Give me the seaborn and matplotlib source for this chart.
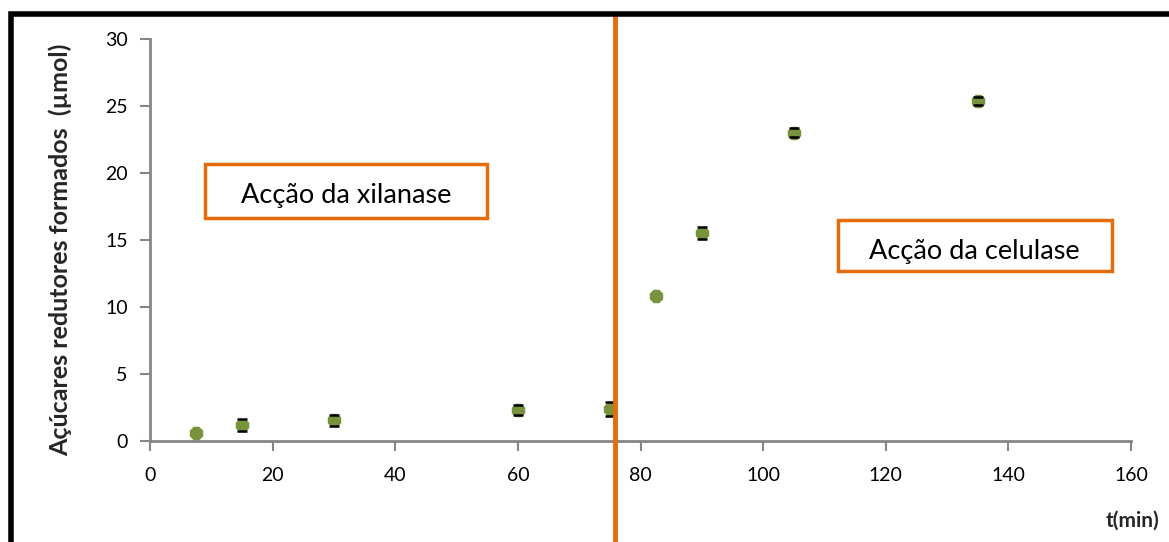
import numpy as np
import pandas as pd
import matplotlib
matplotlib.use("Agg")
import matplotlib.pyplot as plt
from matplotlib.patches import Rectangle
import seaborn as sns

# Reducing sugars formed over time
time_min = [7.5, 15, 30, 60, 75, 82.5, 90, 105, 135]
sugars_umol = [0.6, 1.2, 1.55, 2.3, 2.4, 10.8, 15.5, 23.0, 25.4]
sugars_err = [0.0, 0.45, 0.4, 0.35, 0.5, 0.0, 0.45, 0.35, 0.3]
enzyme_switch = 75.8

x_ticks = [0, 20, 40, 60, 80, 100, 120, 140, 160]
y_ticks = [0, 5, 10, 15, 20, 25, 30]

df = pd.DataFrame({"t": time_min, "a": sugars_umol, "e": sugars_err})

sns.set_theme(style="white")
plt.rcParams["font.family"] = ["Lato", "DejaVu Sans"]

W, H = 1169, 542
fig = plt.figure(figsize=(W / 100, H / 100), dpi=100)
ax = fig.add_axes([150 / W, 1 - 441 / H, 981 / W, 402 / H])

grey = "#868686"
green = "#77933C"
orange = "#E46C0A"

sns.scatterplot(data=df, x="t", y="a", ax=ax, color=green, marker="8",
                s=110, edgecolor=green, linewidth=0, zorder=3)
err = df[df["e"] > 0]
_, caps, stems = ax.errorbar(err["t"], err["a"], yerr=err["e"], fmt="none",
                             ecolor="black", elinewidth=1.0, capsize=3.5,
                             capthick=1.8, zorder=2)
for c in caps:
    c.set_zorder(4)

ax.set_xlim(0, 160)
ax.set_ylim(0, 30)
ax.set_xticks(x_ticks)
ax.set_yticks(y_ticks)
ax.tick_params(axis="both", direction="out", length=7, width=1.5, color=grey,
               labelsize=14, labelcolor="black", pad=9, left=True, bottom=True)
ax.tick_params(axis="x", pad=12)
for side in ("top", "right"):
    ax.spines[side].set_visible(False)
for side in ("left", "bottom"):
    ax.spines[side].set_color(grey)
    ax.spines[side].set_linewidth(2)

ax.set_xlabel("")
ax.set_ylabel("")
fig.text(60 / W, 1 - 250 / H, "Açúcares redutores formados  (µmol)",
         rotation=90, ha="center", va="center", fontsize=18, fontweight="bold")
fig.text(1133 / W, 1 - 521 / H, "t(min)", ha="center", va="center",
         fontsize=15, fontweight="bold")

# Line marking the change from xylanase to cellulase action
ax.axvline(enzyme_switch, ymin=-0.26, ymax=1.06, color=orange, lw=3.5,
           clip_on=False, zorder=5)

ax.add_patch(Rectangle((205 / W, 1 - 218 / H), 282 / W, 54 / H,
                       transform=fig.transFigure, fc="white", ec=orange,
                       lw=2.5, zorder=5, clip_on=False))
fig.text(346 / W, 1 - 195 / H, "Acção da xilanase", ha="center", va="center",
         fontsize=19.5, color="black", zorder=6)
ax.add_patch(Rectangle((838 / W, 1 - 271 / H), 274 / W, 51 / H,
                       transform=fig.transFigure, fc="white", ec=orange,
                       lw=2.5, zorder=5, clip_on=False))
fig.text(974 / W, 1 - 252 / H, "Acção da celulase", ha="center", va="center",
         fontsize=19.5, color="black", zorder=6)

# Outer frame
fig.patches.append(Rectangle((10.5 / W, -0.2), 1.2, 1 - 14 / H + 0.2,
                             transform=fig.transFigure, fill=False,
                             ec="black", lw=4, zorder=10))

fig.savefig("out.png", dpi=100)
